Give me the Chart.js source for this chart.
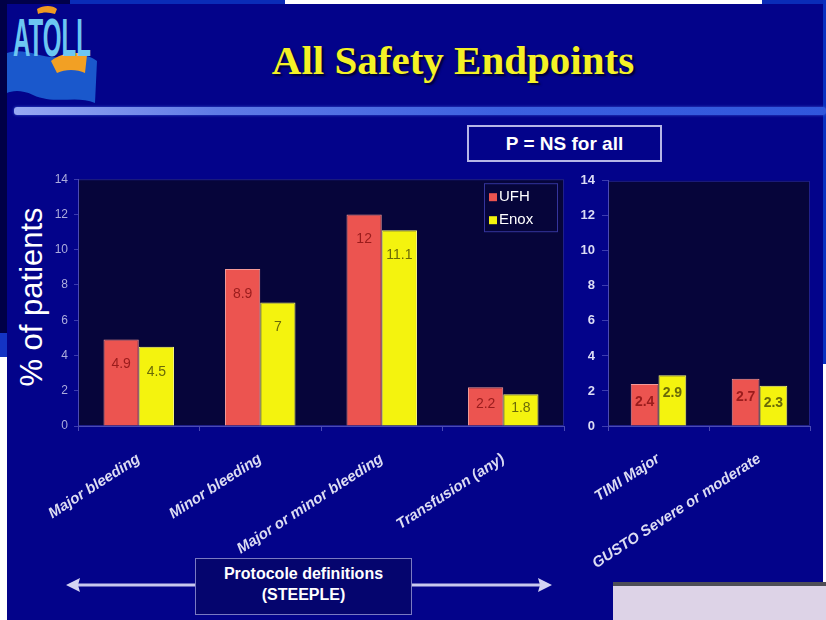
<!DOCTYPE html>
<html>
<head>
<meta charset="utf-8">
<title>All Safety Endpoints</title>
<script src="https://cdn.jsdelivr.net/npm/chart.js@4.4.1/dist/chart.umd.min.js"></script>
<style>
  html, body { margin: 0; padding: 0; }
  body {
    width: 826px; height: 620px; position: relative; overflow: hidden;
    background: #03038a;
    font-family: "Liberation Sans", Arial, sans-serif;
  }
  .abs { position: absolute; }
  #title {
    left: 200px; top: 36px; width: 506px; text-align: center;
    font-family: "Liberation Serif", "Times New Roman", serif;
    font-weight: bold; font-size: 41px; color: #f4f226;
    text-shadow: 2px 2px 2px #000030;
    white-space: nowrap;
  }
  #rule {
    left: 14px; top: 107px; width: 812px; height: 8px; border-radius: 3px;
    background: linear-gradient(to right, #97a8f2 0%, #5f7ae6 25%, #3c60e0 60%, #3056dc 100%);
    box-shadow: 0 0 3px #3b5ad8;
  }
  #pbox {
    left: 467px; top: 125px; width: 191px; height: 33px;
    border: 2px solid #b6b6e6; color: #ffffff;
    font-weight: bold; font-size: 19px; line-height: 33px; text-align: center;
  }
  #ytitle {
    left: -68px; top: 279px; width: 200px; height: 36px; line-height: 36px;
    text-align: center; color: #ffffff; font-size: 31px;
    transform: rotate(-90deg); white-space: nowrap;
  }
  #protoBox {
    left: 195px; top: 558px; width: 215px; height: 51px;
    border: 1.5px solid #7a7ac2; background: #05056e; color: #ffffff;
    font-weight: bold; font-size: 16px; line-height: 21px; text-align: center;
    padding-top: 4px; box-sizing: content-box;
  }
  #cLeft { left: 20px; top: 166px; }
  #cRight { left: 565px; top: 166px; }
</style>
</head>
<body>

<!-- edges of the slide frame -->
<div class="abs" style="left:0;top:0;width:826px;height:4px;background:#0a2cb8"></div>
<div class="abs" style="left:0;top:0;width:70px;height:4px;background:#00004a"></div>
<div class="abs" style="left:285px;top:0;width:477px;height:4px;background:#ffffff"></div>
<div class="abs" style="left:0;top:0;width:7px;height:333px;background:#000046"></div>
<div class="abs" style="left:0;top:333px;width:7px;height:24px;background:#1434c4"></div>
<div class="abs" style="left:0;top:357px;width:7px;height:263px;background:#ffffff"></div>
<div class="abs" style="left:823px;top:0;width:3px;height:364px;background:#0a30c0"></div>
<div class="abs" style="left:823px;top:364px;width:3px;height:218px;background:#ffffff"></div>
<div class="abs" style="left:613px;top:582px;width:213px;height:4px;background:#4e4e56"></div>
<div class="abs" style="left:613px;top:586px;width:213px;height:34px;background:#ddd3e7"></div>

<!-- logo -->
<svg class="abs" style="left:7px;top:3px" width="95" height="102" viewBox="0 0 95 102">
  <path d="M0,50 C18,44 34,56 52,54 C68,52 80,50 90,58 L88,100 C70,92 48,102 26,92 C14,86 4,88 0,90 Z" fill="#1a58cc"/>
  <path d="M30,6 C36,2 46,2 50,6 L48,11 C42,9 36,9 31,11 Z" fill="#ef9a22"/>
  <path d="M44,58 C54,50 68,48 80,52 L78,70 C70,66 58,66 50,70 Z" fill="#f2a024"/>
  <text x="6" y="53" font-family="Liberation Sans, Arial, sans-serif" font-weight="bold" font-size="54"
        fill="#6cc6f2" textLength="78" lengthAdjust="spacingAndGlyphs">ATOLL</text>
</svg>

<div id="title" class="abs">All Safety Endpoints</div>
<div id="rule" class="abs"></div>
<div id="pbox" class="abs">P = NS for all</div>
<div id="ytitle" class="abs">% of patients</div>

<canvas id="cLeft" class="abs" width="554" height="420"></canvas>
<canvas id="cRight" class="abs" width="255" height="420"></canvas>

<!-- double arrow spanning the protocol-defined endpoints -->
<svg class="abs" style="left:0;top:569px" width="600" height="32" viewBox="0 0 600 32">
  <line x1="76" y1="16" x2="542" y2="16" stroke="#c8c8ee" stroke-width="3"/>
  <polygon points="66,16 80,9 78,16 80,23" fill="#d4d4f2"/>
  <polygon points="552,16 538,9 540,16 538,23" fill="#d4d4f2"/>
</svg>
<div id="protoBox" class="abs">Protocole definitions<br>(STEEPLE)</div>

<script>
// Endpoints defined by the STEEPLE protocol
const protocolEndpoints = ['Major bleeding', 'Minor bleeding', 'Major or minor bleeding', 'Transfusion (any)'];
const protocolUFH  = [4.9, 8.9, 12, 2.2];
const protocolEnox = [4.5, 7, 11.1, 1.8];

// Endpoints under other bleeding classifications
const otherEndpoints = ['TIMI Major', 'GUSTO Severe or moderate'];
const otherUFH  = [2.4, 2.7];
const otherEnox = [2.9, 2.3];

const seriesNames = ['UFH', 'Enox'];
const yMax = 14;
const yStep = 2;

const RED = '#ec5450';
const YELLOW = '#f4f30e';
const RED_TEXT = '#9a1c1c';
const YELLOW_TEXT = '#6a6a08';

// dark plotting area behind the bars
const plotBg = {
  id: 'plotBg',
  beforeDraw(chart, args, opts) {
    const a = chart.chartArea;
    const ctx = chart.ctx;
    ctx.save();
    ctx.fillStyle = opts.color;
    ctx.fillRect(a.left, a.top, a.right - a.left, a.bottom - a.top);
    ctx.strokeStyle = opts.border;
    ctx.lineWidth = 1;
    ctx.strokeRect(a.left + 0.5, a.top + 0.5, a.right - a.left - 1, a.bottom - a.top - 1);
    ctx.restore();
  }
};

// value written inside each bar, near its top
const valueLabels = {
  id: 'valueLabels',
  afterDatasetsDraw(chart, args, opts) {
    const ctx = chart.ctx;
    chart.data.datasets.forEach((ds, di) => {
      const meta = chart.getDatasetMeta(di);
      meta.data.forEach((bar, i) => {
        const v = ds.data[i];
        const h = bar.base - bar.y;
        const off = Math.min(opts.offset, h * 0.45);
        ctx.save();
        ctx.font = opts.font;
        ctx.fillStyle = opts.colors[di];
        ctx.textAlign = 'center';
        ctx.textBaseline = 'middle';
        ctx.fillText(String(v), bar.x, bar.y + off);
        ctx.restore();
      });
    });
  }
};

// framed legend in the top right corner of the plot
const boxLegend = {
  id: 'boxLegend',
  afterDraw(chart, args, opts) {
    if (!opts.show) return;
    const a = chart.chartArea;
    const ctx = chart.ctx;
    const w = 74, h = 49;
    const x = a.right - 6 - w, y = a.top + 4;
    ctx.save();
    ctx.fillStyle = '#06053a';
    ctx.fillRect(x, y, w, h);
    ctx.strokeStyle = '#34349c';
    ctx.lineWidth = 1;
    ctx.strokeRect(x + 0.5, y + 0.5, w - 1, h - 1);
    ctx.font = '15px "Liberation Sans", Arial, sans-serif';
    ctx.textBaseline = 'middle';
    chart.data.datasets.forEach((ds, i) => {
      const cy = y + 14 + i * 23;
      ctx.fillStyle = ds.backgroundColor;
      ctx.fillRect(x + 5, cy - 4, 8, 8);
      ctx.fillStyle = '#ffffff';
      ctx.fillText(ds.label, x + 15, cy);
    });
    ctx.restore();
  }
};

function makeChart(id, labels, ufh, enox, cfg) {
  return new Chart(document.getElementById(id), {
    type: 'bar',
    data: {
      labels: labels,
      datasets: [
        { label: seriesNames[0], data: ufh, backgroundColor: RED, borderColor: '#f49a98', borderWidth: 1,
          barPercentage: 1, categoryPercentage: cfg.catPct },
        { label: seriesNames[1], data: enox, backgroundColor: YELLOW, borderColor: '#f8f878', borderWidth: 1,
          barPercentage: 1, categoryPercentage: cfg.catPct }
      ]
    },
    options: {
      responsive: false,
      animation: false,
      layout: { padding: { top: 10, right: 10, left: 0, bottom: 0 } },
      plugins: {
        legend: { display: false },
        tooltip: { enabled: false },
        plotBg: { color: '#06053a', border: '#20208a' },
        valueLabels: { offset: cfg.labelOffset, font: cfg.valueFont, colors: [RED_TEXT, YELLOW_TEXT] },
        boxLegend: { show: cfg.legend }
      },
      scales: {
        x: {
          afterFit: s => { s.height = 160; },
          grid: { display: true, drawOnChartArea: false, offset: true, color: '#4a4ab4', tickLength: 5 },
          border: { display: true, color: '#4a4ab4' },
          ticks: {
            color: '#dcdcf2',
            font: { family: '"Liberation Sans", Arial, sans-serif', size: 15, weight: 'bold', style: 'italic' },
            minRotation: 33, maxRotation: 33, padding: 19
          }
        },
        y: {
          min: 0, max: yMax,
          afterFit: s => { s.width = cfg.yWidth; },
          grid: { display: true, drawOnChartArea: false, color: '#3c3cae', tickLength: cfg.tickLen },
          border: { display: true, color: '#4a4ab4' },
          ticks: {
            stepSize: yStep, color: cfg.tickColor, padding: cfg.tickPad,
            font: { family: '"Liberation Sans", Arial, sans-serif', size: cfg.tickSize, weight: cfg.tickWeight }
          }
        }
      }
    },
    plugins: [plotBg, valueLabels, boxLegend]
  });
}

makeChart('cLeft', protocolEndpoints, protocolUFH, protocolEnox, {
  catPct: 0.58, yWidth: 58, tickLen: 4, tickPad: 6, tickColor: '#acacdc', tickSize: 12, tickWeight: 'normal',
  labelOffset: 25, valueFont: '14px "Liberation Sans", Arial, sans-serif', legend: true
});
makeChart('cRight', otherEndpoints, otherUFH, otherEnox, {
  catPct: 0.55, yWidth: 43, tickLen: 6, tickPad: 7, tickColor: '#dcdcf4', tickSize: 13, tickWeight: 'bold',
  labelOffset: 18, valueFont: 'bold 14px "Liberation Sans", Arial, sans-serif', legend: false
});
</script>
</body>
</html>
